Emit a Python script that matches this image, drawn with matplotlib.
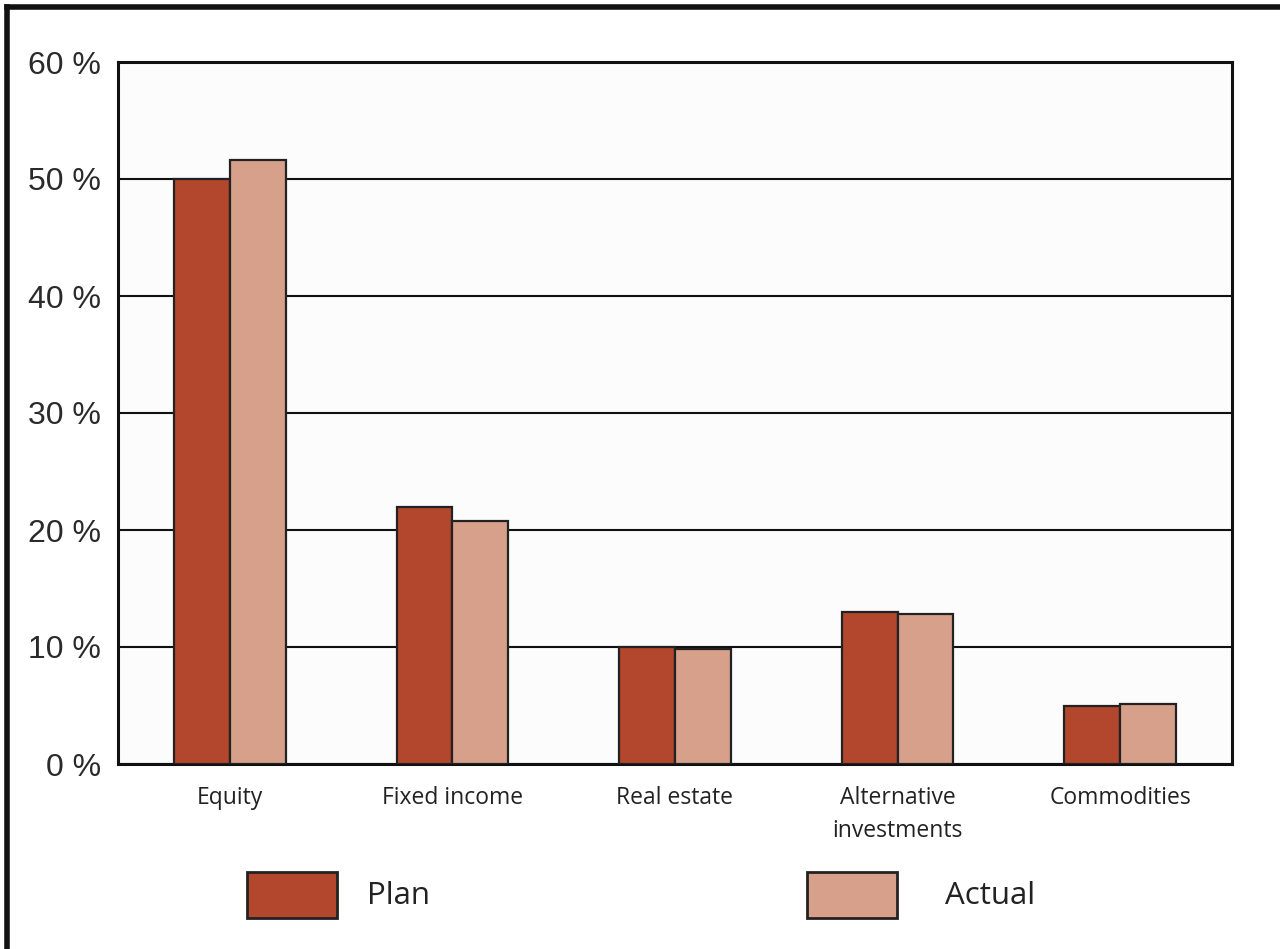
import matplotlib
matplotlib.use("Agg")
import matplotlib.pyplot as plt
import numpy as np
from matplotlib.patches import Rectangle
from matplotlib.lines import Line2D

categories = ["Equity", "Fixed income", "Real estate", "Alternative\ninvestments", "Commodities"]
series_names = ["Plan", "Actual"]
plan = [50.0, 22.0, 10.0, 13.0, 5.0]
actual = [51.6, 20.8, 9.8, 12.8, 5.1]
yticks = [0, 10, 20, 30, 40, 50, 60]
ytick_labels = ["0 %", "10 %", "20 %", "30 %", "40 %", "50 %", "60 %"]

plan_color = "#b2472d"
actual_color = "#d6a08b"

W, H = 1280, 949
fig = plt.figure(figsize=(W / 100, H / 100), dpi=100)
fig.patch.set_facecolor("white")

ax = fig.add_axes([118 / W, 1 - 764 / H, 1114 / W, 702 / H])
ax.set_facecolor("#fcfcfc")

x = np.arange(len(categories))
bw = 0.25
ax.bar(x - bw / 2, plan, width=bw, color=plan_color, edgecolor="#222222", linewidth=1.6, zorder=3)
ax.bar(x + bw / 2, actual, width=bw, color=actual_color, edgecolor="#222222", linewidth=1.6, zorder=3)

ax.set_xlim(-0.503, len(categories) - 1 + 0.503)
ax.set_ylim(0, 60)
ax.set_yticks(yticks)
ax.set_yticklabels(ytick_labels, fontsize=23, family="Liberation Sans", color="#2a2a2a")
ax.yaxis.grid(True, color="#111111", linewidth=1.5, zorder=1)
ax.set_axisbelow(True)
ax.tick_params(axis="y", length=0, pad=12)
ax.set_xticks(x)
ax.set_xticklabels(categories, fontsize=16.5, family="Open Sans", color="#222222", linespacing=1.5)
ax.tick_params(axis="x", length=0, pad=16)
for s in ax.spines.values():
    s.set_color("#111111")
    s.set_linewidth(2.2)

# legend drawn manually
leg_specs = [(247, 367, plan_color), (807, 945, actual_color)]
for (rx, tx, c), name in zip(leg_specs, series_names):
    fig.patches.append(Rectangle((rx / W, 1 - 918 / H), 90 / W, 46 / H, transform=fig.transFigure,
                                 facecolor=c, edgecolor="#222222", linewidth=2))
    fig.text(tx / W, 1 - 896 / H, name, fontsize=22.5, family="Open Sans", color="#222222",
             va="center", ha="left")

# outer frame (top and left)
fig.lines.append(Line2D([7 / W, 1], [1 - 7 / H, 1 - 7 / H], transform=fig.transFigure, color="#111111", linewidth=4))
fig.lines.append(Line2D([7 / W, 7 / W], [0, 1 - 7 / H], transform=fig.transFigure, color="#111111", linewidth=4))

fig.savefig("out.png", dpi=100)
